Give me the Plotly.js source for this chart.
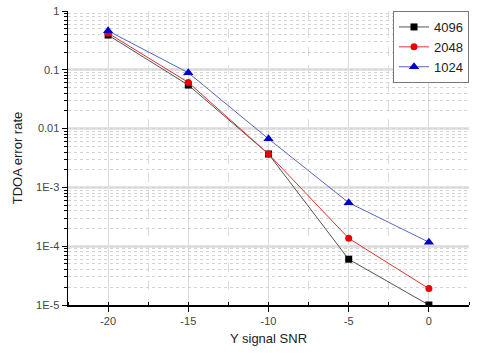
<!DOCTYPE html>
<html><head><meta charset="utf-8">
<script src="https://cdn.plot.ly/plotly-3.0.1.min.js"></script>
<style>html,body{margin:0;padding:0;background:#fff}#c{width:480px;height:355px}</style>
</head><body><div id="c"></div>
<script>
const snr = [-20, -15, -10, -5, 0];
const s4096 = [0.39, 0.055, 0.0037, 6.0e-5, 1.0e-5];
const s2048 = [0.42, 0.061, 0.0037, 1.36e-4, 1.9e-5];
const s1024 = [0.46, 0.089, 0.0067, 5.5e-4, 1.17e-4];
const yTickVals = [1, 0.1, 0.01, 0.001, 0.0001, 0.00001];
const yTickText = ['1', '0.1', '0.01', '1E-3', '1E-4', '1E-5'];
const xTickVals = [-20, -15, -10, -5, 0];
const xTickText = ['-20', '-15', '-10', '-5', '0'];

const font = {family: 'Liberation Sans, Arial, sans-serif', color: '#333', size: 11};
const traces = [
  {x: snr, y: s4096, name: '4096', mode: 'lines+markers', line: {color: '#555', width: 1},
   marker: {symbol: 'square', size: 7, color: '#000'}},
  {x: snr, y: s2048, name: '2048', mode: 'lines+markers', line: {color: '#d33', width: 1},
   marker: {symbol: 'circle', size: 7, color: '#e00'}},
  {x: snr, y: s1024, name: '1024', mode: 'lines+markers', line: {color: '#5566bb', width: 1},
   marker: {symbol: 'triangle-up', size: 9, color: '#00c'}},
  {x: [snr[0]], y: [s4096[0]], yaxis: 'y2', showlegend: false, hoverinfo: 'skip',
   mode: 'markers', marker: {opacity: 0}}
];
const layout = {
  width: 480, height: 355,
  margin: {l: 68, r: 11, t: 11, b: 50},
  paper_bgcolor: '#fff', plot_bgcolor: '#fff',
  font: font,
  showlegend: true,
  legend: {x: 1.0, y: 1.0, xanchor: 'right', yanchor: 'top',
    bordercolor: '#777', borderwidth: 1, bgcolor: '#fff',
    font: {family: 'Liberation Sans, Arial, sans-serif', size: 13, color: '#222'},
    tracegroupgap: 0, itemwidth: 30},
  xaxis: {
    range: [-22.5, 2.5], tickvals: xTickVals, ticktext: xTickText, ticks: 'outside', ticklen: 5, tickcolor: '#000',
    showline: true, linecolor: '#000', linewidth: 1.5, zeroline: false,
    showgrid: true, gridcolor: '#ddd', gridwidth: 1,
    minor: {dtick: 2.5, tick0: 0, ticks: 'inside', ticklen: 3, tickcolor: '#000',
      showgrid: true, gridcolor: '#ddd', griddash: 'dash'},
    title: {text: 'Y signal SNR', font: {size: 13, color: '#222'}, standoff: 8},
    tickfont: {size: 11, color: '#444'}
  },
  yaxis: {
    type: 'log', range: [-5, 0], tickvals: yTickVals, ticktext: yTickText,
    ticks: 'outside', ticklen: 5, tickcolor: '#000',
    showline: true, linecolor: '#000', linewidth: 1.5, zeroline: false,
    showgrid: true, gridcolor: '#e2e2e2', gridwidth: 3,
    title: {text: 'TDOA error rate', font: {size: 13, color: '#222'}, standoff: 10},
    tickfont: {size: 11, color: '#444'}
  },
  yaxis2: {
    type: 'log', range: [-5, 0], overlaying: 'y', side: 'left', dtick: 'D1',
    showticklabels: false, ticks: 'outside', ticklen: 3, tickcolor: '#000',
    showgrid: true, gridcolor: '#d4d4d4', griddash: 'dot', gridwidth: 1,
    showline: false, zeroline: false
  }
};
Plotly.newPlot('c', traces, layout, {staticPlot: true, displayModeBar: false});
</script></body></html>
